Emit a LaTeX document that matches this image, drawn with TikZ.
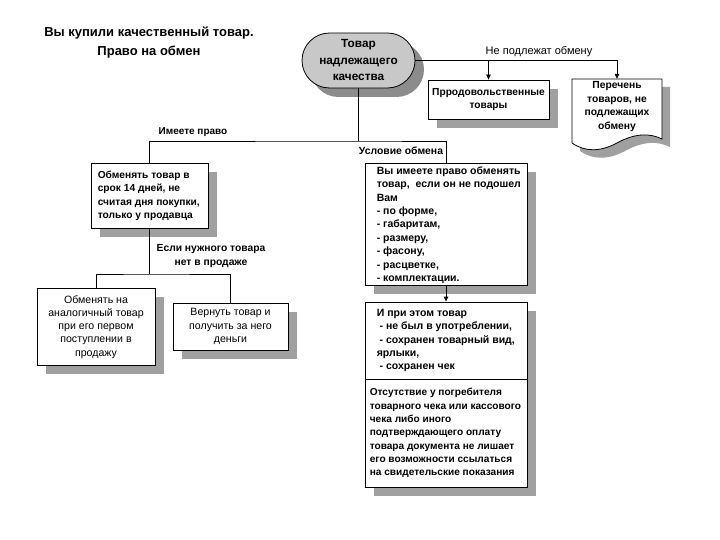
\documentclass[tikz,border=0pt]{standalone}
\usepackage{fontspec}
\setmainfont{Liberation Sans}
\usetikzlibrary{shapes.misc,shadows,arrows.meta}
\definecolor{shgray}{HTML}{A0A0A0}
\definecolor{pillfill}{HTML}{C8C8C8}
\definecolor{pillshadow}{HTML}{8C8C8C}
\begin{document}
\begin{tikzpicture}[x=1pt,y=-1pt,
  ln/.style={line width=0.8pt},
  arr/.style={ln,-{Triangle[length=5pt,width=4.5pt]}},
  box/.style={draw,ln,fill=white,inner sep=0pt,
    drop shadow={shadow xshift=9pt,shadow yshift=-9pt,fill=shgray,opacity=1}},
  txt/.style={font=\fontsize{10.5}{13.4}\selectfont\bfseries,inner sep=0pt,align=left},
  ctxt/.style={font=\fontsize{10.2}{13.4}\selectfont\bfseries,inner sep=0pt,align=center},
  rtxt/.style={font=\fontsize{10.6}{13.2}\selectfont,inner sep=0pt,align=center},
  lbl/.style={font=\fontsize{10}{14}\selectfont\bfseries,inner sep=0pt,align=center}
]
\useasboundingbox (0,0) rectangle (720,540);
\fill[white] (0,0) rectangle (720,540);

% title
\node[font=\fontsize{13}{19}\selectfont\bfseries,align=center,inner sep=0pt] (title) at (149,42.5)
  {Вы купили качественный товар.\\Право на обмен};

% pill
\node[rounded rectangle,draw,ln,fill=pillfill,minimum width=113pt,minimum height=55pt,inner sep=0pt,
  drop shadow={shadow xshift=9pt,shadow yshift=-9pt,fill=pillshadow,opacity=1},
  font=\fontsize{11.8}{16.5}\selectfont\bfseries,align=center] (P) at (358.5,60.5)
  {Товар\\надлежащего\\качества};

% not exchangeable
\node[box,minimum width=121pt,minimum height=39pt] (F) at (488.5,99.5) {};
\node[ctxt] (Ft) at (F.center) {Прродовольственные\\товары};

% document
\begin{scope}[shift={(8,8)}]
\fill[shgray] (572,79) -- (662,79) -- (662,139) .. controls (650,133) and (635,133) .. (617,143)
  .. controls (600,152) and (585,152) .. (572,143) -- cycle;
\end{scope}
\draw[ln,fill=white] (572,79) -- (662,79) -- (662,139) .. controls (650,133) and (635,133) .. (617,143)
  .. controls (600,152) and (585,152) .. (572,143) -- cycle;
\node[minimum width=90pt,minimum height=62pt,inner sep=0pt] (D) at (617,110) {};
\node[ctxt,font=\fontsize{10.3}{13.5}\selectfont\bfseries] (Dt) at (617,106.5) {Перечень\\товаров, не\\подлежащих\\обмену};

\node[rtxt,font=\fontsize{11}{13}\selectfont] (nl) at (539,52) {Не подлежат обмену};
\draw[ln] (P.east) -- (P.east -| D.north);
\draw[arr] (P.east -| F.north) -- (F.north);
\draw[arr] (P.east -| D.north) -- (D.north);

% left branch
\node[box,minimum width=117pt,minimum height=65pt] (B1) at (149.5,195.5) {};
\node[txt,font=\fontsize{10.2}{13.4}\selectfont\bfseries,anchor=west] (B1t) at ([xshift=7pt,yshift=-0.5pt]B1.west)
  {Обменять товар в\\срок 14 дней, не\\считая дня покупки,\\только у продавца};

\node[box,minimum width=118pt,minimum height=77pt] (B3) at (96,326.5) {};
\node[rtxt] (B3t) at ([yshift=-0.5pt]B3.center)
  {Обменять на\\аналогичный товар\\при его первом\\поступлении в\\продажу};

\node[box,minimum width=115pt,minimum height=47pt] (B4) at (230.5,326.5) {};
\node[rtxt] (B4t) at (B4.center) {Вернуть товар и\\получить за него\\деньги};

% right branch
\node[box,minimum width=162pt,minimum height=122pt] (A) at (446,224) {};
\node[txt,anchor=west] (At) at ([xshift=12pt,yshift=-1pt]A.west)
  {Вы имеете право обменять\\товар, \ если он не подошел\\Вам\\- по форме,\\- габаритам,\\- размеру,\\- фасону,\\- расцветке,\\- комплектации.};

\node[box,minimum width=162pt,minimum height=77pt] (B) at (446,340.5) {};
\node[txt,anchor=west] (Bt) at ([xshift=12pt]B.west)
  {И при этом товар\\\ - не был в употреблении,\\\ - сохранен товарный вид,\\ярлыки,\\\ - сохранен чек};

\node[box,minimum width=162pt,minimum height=108pt] (C) at (446,433) {};
\node[txt,anchor=west,font=\fontsize{10.1}{13.3}\selectfont\bfseries] (Ct) at ([xshift=5pt]C.west)
  {Отсутствие у погребителя\\товарного чека или кассового\\чека либо иного\\подтверждающего оплату\\товара документа не лишает\\его возможности ссылаться\\на свидетельские показания};

% connectors
\coordinate (j) at (358.5,141);
\draw[ln] (P.south) -- (j);
\draw[ln] (B1.north) |- (j) -| (A.north);
\node[lbl] (l1) at (193,132) {Имеете право};
\node[lbl,font=\fontsize{10.4}{14}\selectfont\bfseries] (l2) at (401,151) {Условие обмена};

\coordinate (k) at (149.5,274);
\draw[ln] (B1.south) -- (k);
\draw[ln] (B3.north) |- (k) -| (B4.north);
\node[lbl,font=\fontsize{10.3}{14}\selectfont\bfseries] (l3) at (211,256) {Если нужного товара\\нет в продаже};

\draw[arr] (A.south) -- (B.north);
\end{tikzpicture}
\end{document}
